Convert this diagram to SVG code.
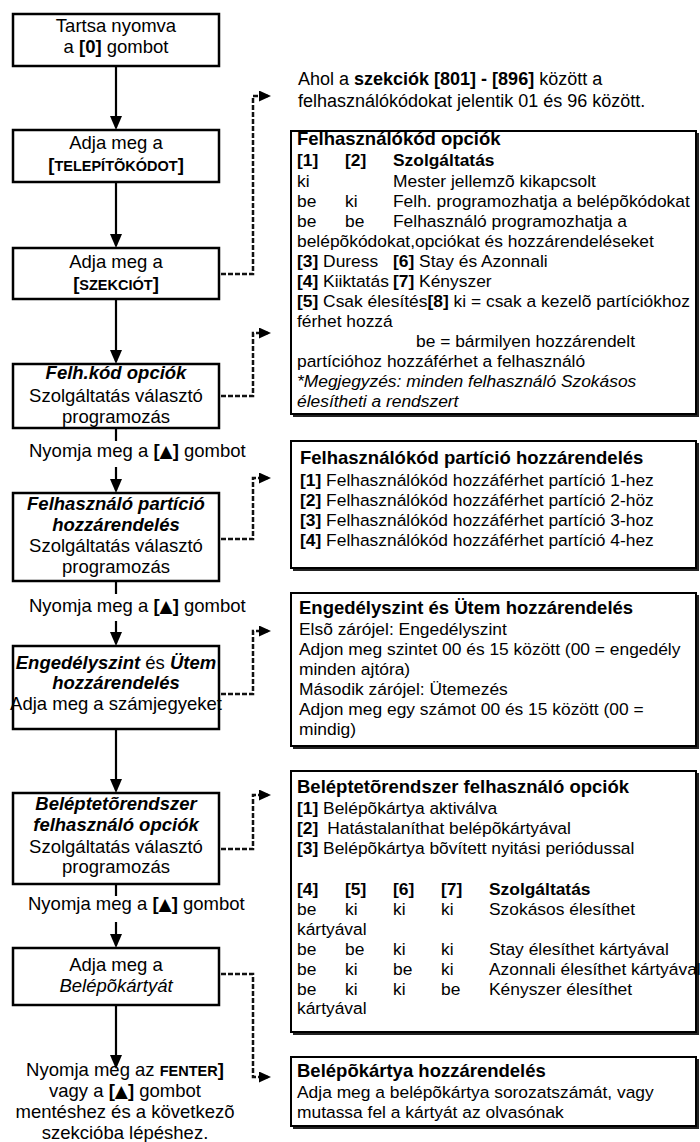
<svg xmlns="http://www.w3.org/2000/svg" width="700" height="1142" viewBox="0 0 700 1142">
<style>
text{font-family:"Liberation Sans",Arial,Helvetica,sans-serif;fill:#000}
.L{font-size:18.5px;text-anchor:middle}
.N{font-size:18.5px}
.R{font-size:17.4px}
.H{font-size:18.5px;font-weight:bold}
.T{font-size:18px}
.b{font-weight:bold}
.i{font-style:italic}
.bi{font-weight:bold;font-style:italic}
.sc{font-size:14.5px;font-weight:bold}
.tri{font-family:"DejaVu Sans",sans-serif;font-size:17px}
.box{fill:#fff;stroke:#000;stroke-width:2.5}
.rbox{fill:#fff;stroke:#000;stroke-width:2}
.sh{fill:none;stroke:#222;stroke-width:2}
.ln{stroke:#000;stroke-width:2.2;fill:none}
.dl{stroke:#111;stroke-width:2.5;stroke-dasharray:5 2;fill:none}
</style>
<defs>
<marker id="ah" viewBox="0 0 14 12" refX="11" refY="6" markerWidth="14" markerHeight="12" markerUnits="userSpaceOnUse" orient="auto">
<path d="M0,0 L14,6 L0,12 z" fill="#000"/>
</marker>
<marker id="dh" viewBox="0 0 12 11" refX="9" refY="5.5" markerWidth="12" markerHeight="11" markerUnits="userSpaceOnUse" orient="auto">
<path d="M0,0 L12,5.5 L0,11 z" fill="#000"/>
</marker>
</defs>
<rect width="700" height="1142" fill="#fff"/>

<g id="connectors">
<path class="ln" d="M116,66 V127" marker-end="url(#ah)"/>
<path class="ln" d="M116,182 V245" marker-end="url(#ah)"/>
<path class="ln" d="M116,299 V361" marker-end="url(#ah)"/>
<path class="ln" d="M116,428 V441"/>
<path class="ln" d="M116,467 V490" marker-end="url(#ah)"/>
<path class="ln" d="M116,581 V594"/>
<path class="ln" d="M116,621 V643" marker-end="url(#ah)"/>
<path class="ln" d="M116,729 V790" marker-end="url(#ah)"/>
<path class="ln" d="M116,884 V896"/>
<path class="ln" d="M116,922 V945" marker-end="url(#ah)"/>
<path class="ln" d="M116,1005 V1066" marker-end="url(#ah)"/>
<path class="dl" d="M221,274 H253 V96 H268" marker-end="url(#dh)"/>
<path class="dl" d="M221,396 H253 V333 H268" marker-end="url(#dh)"/>
<path class="dl" d="M221,539 H253 V478 H268" marker-end="url(#dh)"/>
<path class="dl" d="M221,694 H253 V631 H268" marker-end="url(#dh)"/>
<path class="dl" d="M221,849 H253 V795 H268" marker-end="url(#dh)"/>
<path class="dl" d="M221,974 H253 V1077 H268" marker-end="url(#dh)"/>
</g>

<g id="n1">
<rect class="box" x="13" y="14" width="206" height="52"/>
<text class="L" x="116" y="32">Tartsa nyomva</text>
<text class="L" x="116" y="53">a  <tspan class="b">[0]</tspan> gombot</text>
</g>

<g id="n2">
<rect class="box" x="13" y="130" width="206" height="52"/>
<text class="L" x="116" y="149">Adja meg a</text>
<text class="L" x="116" y="171"><tspan class="b">[</tspan><tspan class="sc">TELEPÍTÕKÓDOT</tspan><tspan class="b">]</tspan></text>
</g>

<g id="n3">
<rect class="box" x="13" y="248" width="206" height="51"/>
<text class="L" x="116" y="268">Adja meg a</text>
<text class="L" x="116" y="290"><tspan class="b">[</tspan><tspan class="sc">SZEKCIÓT</tspan><tspan class="b">]</tspan></text>
</g>

<g id="n4">
<rect class="box" x="13" y="364" width="206" height="64"/>
<text class="L bi" x="116" y="379">Felh.kód opciók</text>
<text class="L" x="116" y="402">Szolgáltatás választó</text>
<text class="L" x="116" y="423">programozás</text>
</g>

<g id="l1">
<text class="N" x="29" y="457">Nyomja meg a <tspan class="b">[</tspan><tspan class="tri">▲</tspan><tspan class="b">]</tspan> gombot</text>
</g>

<g id="n5">
<rect class="box" x="13" y="493" width="206" height="88"/>
<text class="L bi" x="116" y="510">Felhasználó partíció</text>
<text class="L bi" x="116" y="531">hozzárendelés</text>
<text class="L" x="116" y="552">Szolgáltatás választó</text>
<text class="L" x="116" y="573">programozás</text>
</g>

<g id="l2">
<text class="N" x="29" y="612">Nyomja meg a <tspan class="b">[</tspan><tspan class="tri">▲</tspan><tspan class="b">]</tspan> gombot</text>
</g>

<g id="n6">
<rect class="box" x="13" y="646" width="206" height="83"/>
<text class="L" x="116" y="669"><tspan class="bi">Engedélyszint</tspan> és <tspan class="bi">Ütem</tspan></text>
<text class="L bi" x="116" y="689">hozzárendelés</text>
<text class="L" x="116" y="710">Adja meg a számjegyeket</text>
</g>

<g id="n7">
<rect class="box" x="13" y="793" width="206" height="91"/>
<text class="L bi" x="116" y="810">Beléptetõrendszer</text>
<text class="L bi" x="116" y="831">felhasználó opciók</text>
<text class="L" x="116" y="853">Szolgáltatás választó</text>
<text class="L" x="116" y="873">programozás</text>
</g>

<g id="l3">
<text class="N" x="28" y="910">Nyomja meg a <tspan class="b">[</tspan><tspan class="tri">▲</tspan><tspan class="b">]</tspan> gombot</text>
</g>

<g id="n8">
<rect class="box" x="13" y="948" width="206" height="57"/>
<text class="L" x="116" y="971">Adja meg a</text>
<text class="L i" x="116" y="992">Belépõkártyát</text>
</g>

<g id="end">
<text class="L" x="125" y="1076">Nyomja meg az <tspan class="sc">FENTER</tspan><tspan class="b">]</tspan></text>
<text class="L" x="125" y="1097">vagy a <tspan class="b">[</tspan><tspan class="tri">▲</tspan><tspan class="b">]</tspan> gombot</text>
<text class="L" x="125" y="1118">mentéshez és a következõ</text>
<text class="L" x="125" y="1139">szekcióba lépéshez.</text>
</g>

<g id="note">
<text class="T" x="298" y="85">Ahol a <tspan class="b">szekciók [801] - [896]</tspan> között a</text>
<text class="T" x="298" y="107">felhasználókódokat jelentik 01 és 96 között.</text>
</g>

<g id="r1">
<rect class="rbox" x="291" y="131" width="405" height="283"/>
<polyline class="sh" points="293,416 698,416 698,133"/>
<text class="H" x="297" y="145">Felhasználókód opciók</text>
<text class="R b" y="166"><tspan x="297">[1]</tspan><tspan x="345">[2]</tspan><tspan x="393">Szolgáltatás</tspan></text>
<text class="R" y="186.5"><tspan x="297">ki</tspan><tspan x="393">Mester jellemzõ kikapcsolt</tspan></text>
<text class="R" y="206.5"><tspan x="297">be</tspan><tspan x="345">ki</tspan><tspan x="393">Felh. programozhatja a belépõkódokat</tspan></text>
<text class="R" y="226.5"><tspan x="297">be</tspan><tspan x="345">be</tspan><tspan x="393">Felhasználó programozhatja a</tspan></text>
<text class="R" x="297" y="246.5">belépõkódokat,opciókat és hozzárendeléseket</text>
<text class="R" y="266.5"><tspan x="297" class="b">[3]</tspan> Duress<tspan x="393" class="b">[6]</tspan> Stay és Azonnali</text>
<text class="R" y="286.5"><tspan x="297" class="b">[4]</tspan> Kiiktatás <tspan x="393" class="b">[7]</tspan> Kényszer</text>
<text class="R" x="297" y="306.5"><tspan class="b">[5]</tspan> Csak élesítés<tspan class="b">[8]</tspan> ki = csak a kezelõ partíciókhoz</text>
<text class="R" x="297" y="326.5">férhet hozzá</text>
<text class="R" x="416" y="346.5">be = bármilyen hozzárendelt</text>
<text class="R" x="297" y="366.5">partícióhoz hozzáférhet a felhasználó</text>
<text class="R i" x="297" y="386.5">*Megjegyzés: minden felhasználó Szokásos</text>
<text class="R i" x="297" y="406.5">élesítheti a rendszert</text>
</g>

<g id="r2">
<rect class="rbox" x="291" y="441" width="405" height="127"/>
<polyline class="sh" points="293,570 698,570 698,443"/>
<text class="H" x="300" y="464">Felhasználókód partíció hozzárendelés</text>
<text class="R" x="300" y="486"><tspan class="b">[1]</tspan> Felhasználókód hozzáférhet partíció 1-hez</text>
<text class="R" x="300" y="506"><tspan class="b">[2]</tspan> Felhasználókód hozzáférhet partíció 2-höz</text>
<text class="R" x="300" y="526"><tspan class="b">[3]</tspan> Felhasználókód hozzáférhet partíció 3-hoz</text>
<text class="R" x="300" y="546"><tspan class="b">[4]</tspan> Felhasználókód hozzáférhet partíció 4-hez</text>
</g>

<g id="r3">
<rect class="rbox" x="291" y="593" width="405" height="153"/>
<polyline class="sh" points="293,748 698,748 698,595"/>
<text class="H" x="299" y="614">Engedélyszint és Ütem hozzárendelés</text>
<text class="R" x="299" y="635">Elsõ zárójel: Engedélyszint</text>
<text class="R" x="299" y="655">Adjon meg szintet 00 és 15 között (00 = engedély</text>
<text class="R" x="299" y="675">minden ajtóra)</text>
<text class="R" x="299" y="695">Második zárójel: Ütemezés</text>
<text class="R" x="299" y="715">Adjon meg egy számot 00 és 15 között (00 =</text>
<text class="R" x="299" y="735">mindig)</text>
</g>

<g id="r4">
<rect class="rbox" x="291" y="771" width="405" height="261"/>
<polyline class="sh" points="293,1034 698,1034 698,773"/>
<text class="H" x="297" y="793">Beléptetõrendszer felhasználó opciók</text>
<text class="R" x="297" y="814"><tspan class="b">[1]</tspan> Belépõkártya aktiválva</text>
<text class="R" x="297" y="834"><tspan class="b">[2]</tspan><tspan dx="9">Hatástalaníthat belépõkártyával</tspan></text>
<text class="R" x="297" y="854"><tspan class="b">[3]</tspan> Belépõkártya bõvített nyitási periódussal</text>
<text class="R b" y="895"><tspan x="297">[4]</tspan><tspan x="345">[5]</tspan><tspan x="393">[6]</tspan><tspan x="441">[7]</tspan><tspan x="489">Szolgáltatás</tspan></text>
<text class="R" y="915"><tspan x="297">be</tspan><tspan x="345">ki</tspan><tspan x="393">ki</tspan><tspan x="441">ki</tspan><tspan x="489">Szokásos élesíthet</tspan></text>
<text class="R" x="297" y="935">kártyával</text>
<text class="R" y="955"><tspan x="297">be</tspan><tspan x="345">be</tspan><tspan x="393">ki</tspan><tspan x="441">ki</tspan><tspan x="489">Stay élesíthet kártyával</tspan></text>
<text class="R" y="975"><tspan x="297">be</tspan><tspan x="345">ki</tspan><tspan x="393">be</tspan><tspan x="441">ki</tspan><tspan x="489">Azonnali élesíthet kártyával</tspan></text>
<text class="R" y="995"><tspan x="297">be</tspan><tspan x="345">ki</tspan><tspan x="393">ki</tspan><tspan x="441">be</tspan><tspan x="489">Kényszer élesíthet</tspan></text>
<text class="R" x="297" y="1014">kártyával</text>
</g>

<g id="r5">
<rect class="rbox" x="291" y="1057" width="405" height="69"/>
<polyline class="sh" points="293,1128 698,1128 698,1059"/>
<text class="H" x="297" y="1077">Belépõkártya hozzárendelés</text>
<text class="R" x="297" y="1098">Adja meg a belépõkártya sorozatszámát, vagy</text>
<text class="R" x="297" y="1118">mutassa fel a kártyát az olvasónak</text>
</g>
</svg>
